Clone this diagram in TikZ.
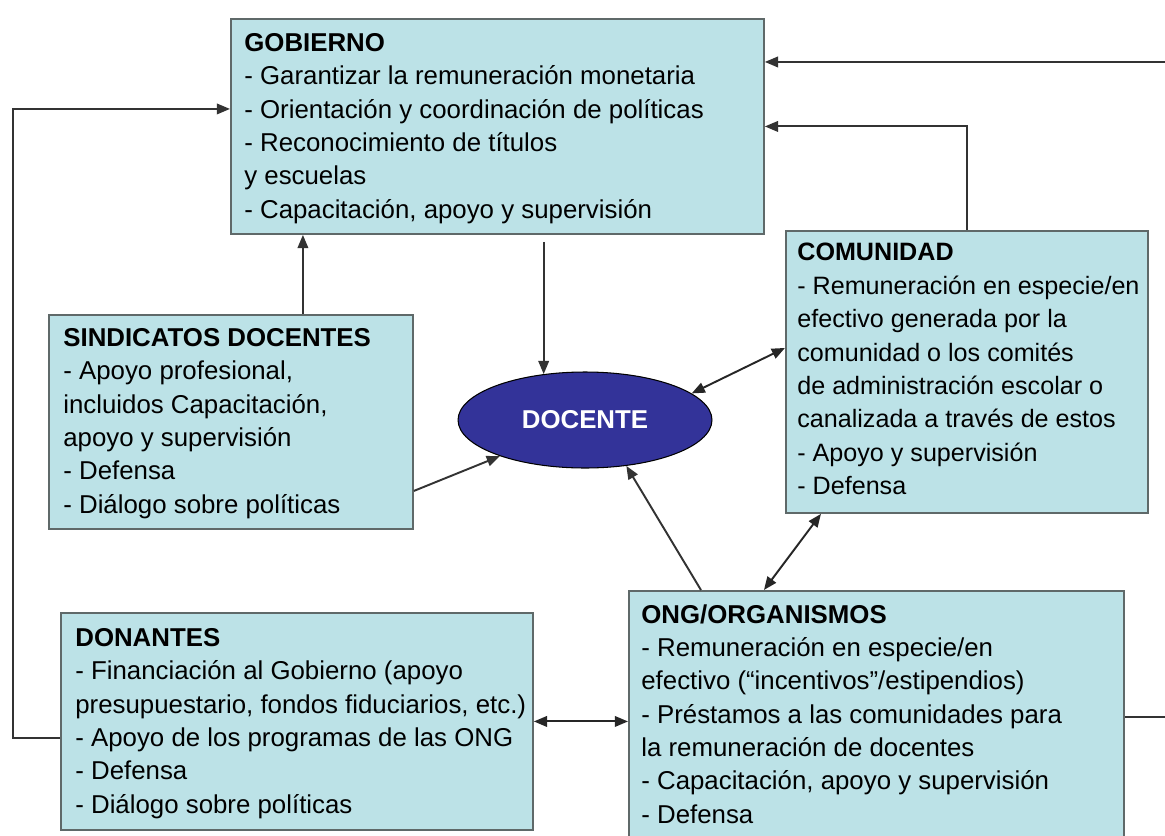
\documentclass[tikz,border=0pt]{standalone}
\usepackage{fontspec}
\setmainfont{Liberation Sans}
\usetikzlibrary{shapes.geometric, arrows.meta, positioning}
\definecolor{boxcyan}{RGB}{188,226,231}
\definecolor{boxline}{RGB}{95,105,105}
\definecolor{docblue}{RGB}{51,51,153}

\begin{document}
\begin{tikzpicture}[
    x=0.02cm, y=-0.02cm,
    box/.style={rectangle, draw=boxline, line width=1.1pt, fill=boxcyan, anchor=north west, inner sep=0},
    boxtext/.style={anchor=north west, inner sep=0, align=left, font=\fontsize{14.7}{19}\selectfont},
    arrow/.style={-{Triangle[length=7.5pt,width=6pt]}, line width=1.1pt, black!80},
    biarrow/.style={{Triangle[length=7.5pt,width=6pt]}-{Triangle[length=7.5pt,width=6pt]}, line width=1.1pt, black!85},
    docente/.style={ellipse, draw=black, line width=0.6pt, fill=docblue, text=white, inner sep=0, font=\fontsize{14.7}{19}\selectfont\bfseries},
]
\useasboundingbox (0,0) rectangle (1165,835);
\clip (0,0) rectangle (1165,835);

% Gobierno - box with its list inside
\node[box, minimum width=10.66cm, minimum height=4.30cm] (gob) at (230,18) {};
\node[boxtext] (gobtxt) at (244,33) {\textbf{GOBIERNO}\\
- Garantizar la remuneración monetaria\\
- Orientación y coordinación de políticas\\
- Reconocimiento de títulos\\
y escuelas\\
- Capacitación, apoyo y supervisión};

% Comunidad
\node[box, minimum width=7.24cm, minimum height=5.64cm] (com) at (785,230) {};
\node[boxtext, font=\fontsize{14.3}{19}\selectfont] (comtxt) at (797,243) {\textbf{COMUNIDAD}\\
- Remuneración en especie/en\\
efectivo generada por la\\
comunidad o los comités\\
de administración escolar o\\
canalizada a través de estos\\
- Apoyo y supervisión\\
- Defensa};

% Sindicatos docentes
\node[box, minimum width=7.28cm, minimum height=4.28cm] (sind) at (48,314) {};
\node[boxtext] (sindtxt) at (63,328) {\textbf{SINDICATOS DOCENTES}\\
- Apoyo profesional,\\
incluidos Capacitación,\\
apoyo y supervisión\\
- Defensa\\
- Diálogo sobre políticas};

% Donantes
\node[box, minimum width=9.44cm, minimum height=4.34cm] (don) at (60,612) {};
\node[boxtext] (dontxt) at (75,628) {\textbf{DONANTES}\\
- Financiación al Gobierno (apoyo\\
presupuestario, fondos fiduciarios, etc.)\\
- Apoyo de los programas de las ONG\\
- Defensa\\
- Diálogo sobre políticas};

% ONG / organismos (runs past the bottom edge)
\node[box, minimum width=9.90cm, minimum height=5.04cm] (ong) at (628,590) {};
\node[boxtext] (ongtxt) at (641,604) {\textbf{ONG/ORGANISMOS}\\
- Remuneración en especie/en\\
efectivo (“incentivos”/estipendios)\\
- Préstamos a las comunidades para\\
la remuneración de docentes\\
- Capacitación, apoyo y supervisión\\
- Defensa};

% Docente
\node[docente, minimum width=5.08cm, minimum height=1.92cm] (doc) at (585,420) {DOCENTE};

% connectors
\draw[arrow] (doc.132 |- gob.south) ++(0,7) -- (doc.132);
\draw[arrow] ([xshift=1.44cm]sind.north) -- ([xshift=1.44cm]sind.north |- gob.south);
\draw[arrow] ([yshift=-1.38cm]sind.east) -- (doc.203);
\draw[biarrow] (doc.14) -- ([yshift=0.48cm]com.west);
\draw[arrow] ([xshift=-3.51cm]ong.north) -- (doc.312);
\draw[biarrow] ([xshift=-2.25cm]ong.north) -- ([xshift=-2.92cm]com.south);
\draw[biarrow] (don.east) -- (don.east -| ong.west);
\draw[arrow] ([yshift=-0.33cm]don.west) -- ++(-47,0) |- ([yshift=0.35cm]gob.west);
\draw[arrow] (com.north) |- (gob.east);
\draw[arrow] (ong.east) -- ++(80,0) |- ([yshift=1.29cm]gob.east);

\end{tikzpicture}
\end{document}
